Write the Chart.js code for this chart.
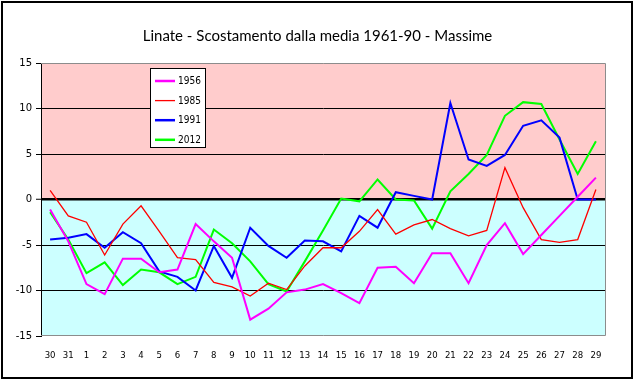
<!DOCTYPE html>
<html><head><meta charset="utf-8">
<script src="https://cdn.jsdelivr.net/npm/chart.js@4.4.1/dist/chart.umd.min.js"></script>
<style>html,body{margin:0;padding:0;background:#fff;} #wrap{position:relative;width:635px;height:381px;} canvas{display:block;}</style>
</head><body><div id="wrap"><canvas id="c" width="635" height="381"></canvas></div>
<script>
const categories = ['30','31','1','2','3','4','5','6','7','8','9','10','11','12','13','14','15','16','17','18','19','20','21','22','23','24','25','26','27','28','29'];
const seriesNames = ['1956','1985','1991','2012'];
const s1956 = [-1.1,-4.6,-9.3,-10.4,-6.5,-6.5,-8.0,-7.7,-2.7,-4.6,-6.4,-13.2,-12.0,-10.2,-9.9,-9.3,-10.3,-11.4,-7.5,-7.4,-9.2,-5.9,-5.9,-9.2,-5.0,-2.6,-6.0,-3.9,-1.8,0.3,2.4];
const s1985 = [1.0,-1.8,-2.5,-6.1,-2.7,-0.7,-3.5,-6.4,-6.6,-9.1,-9.6,-10.6,-9.2,-9.9,-7.3,-5.3,-5.3,-3.5,-1.1,-3.8,-2.8,-2.2,-3.2,-4.0,-3.4,3.5,-0.9,-4.4,-4.7,-4.4,1.1];
const s1991 = [-4.4,-4.2,-3.8,-5.3,-3.6,-4.8,-7.9,-8.5,-10.0,-5.1,-8.6,-3.1,-5.1,-6.4,-4.5,-4.6,-5.7,-1.8,-3.1,0.8,0.4,0.0,10.6,4.4,3.7,4.9,8.1,8.7,6.8,0.0,0.0];
const s2012 = [-1.4,-4.4,-8.1,-6.9,-9.4,-7.7,-8.0,-9.3,-8.5,-3.3,-4.8,-6.8,-9.3,-10.1,-6.8,-3.4,0.1,-0.2,2.2,0.0,-0.1,-3.2,0.9,2.8,4.9,9.2,10.7,10.5,6.6,2.8,6.4];
const yTickValues = [15,10,5,0,-5,-10,-15];
const titleText = 'Linate - Scostamento dalla media 1961-90 - Massime';

const colors = ['#FF00FF','#FF0000','#0000FF','#00FF00'];
const widths = [2,1.3,2,2];
const legendWidths = [2.5,1.3,2.5,2.5];
const allSeries = [s1956,s1985,s1991,s2012];

const bgPlugin = {
  id:'bg',
  beforeDraw(chart){
    const {ctx, chartArea:a, scales:{y}} = chart;
    ctx.save();
    ctx.fillStyle='#fff'; ctx.fillRect(0,0,chart.width,chart.height);
    const y0 = y.getPixelForValue(0);
    ctx.fillStyle='#FFCCCC'; ctx.fillRect(a.left,a.top,a.right-a.left,y0-a.top);
    ctx.fillStyle='#CCFFFF'; ctx.fillRect(a.left,y0,a.right-a.left,a.bottom-y0);
    ctx.restore();
  },
  beforeDatasetsDraw(chart){
    const {ctx, chartArea:a} = chart;
    ctx.save();
    ctx.strokeStyle='#8c8c8c'; ctx.lineWidth=1;
    ctx.beginPath();
    ctx.moveTo(a.left, a.top+0.5); ctx.lineTo(Math.round(a.right)+0.5, a.top+0.5);
    ctx.lineTo(Math.round(a.right)+0.5, a.bottom-0.5); ctx.lineTo(a.left, a.bottom-0.5);
    ctx.stroke();
    ctx.restore();
  },
  afterDraw(chart){
    const {ctx} = chart;
    ctx.save();
    const x0=150.5, y0=68.5, w=55, h=79;
    ctx.fillStyle='#fff'; ctx.fillRect(x0,y0,w,h);
    ctx.strokeStyle='#000'; ctx.lineWidth=1; ctx.strokeRect(x0,y0,w,h);
    chart.data.datasets.forEach((ds,i)=>{
      const yy = 81 + i*19.6;
      ctx.strokeStyle = ds.borderColor; ctx.lineWidth = legendWidths[i];
      ctx.beginPath(); ctx.moveTo(155,yy); ctx.lineTo(175,yy); ctx.stroke();
      ctx.fillStyle='#000'; ctx.font='10px "DejaVu Sans Condensed", "DejaVu Sans"';
      ctx.textBaseline='middle'; ctx.textAlign='left';
      ctx.fillText(ds.label,178,yy+0.5);
    });
    ctx.strokeStyle='#000'; ctx.lineWidth=2;
    ctx.strokeRect(2,2,630,376);
    ctx.restore();
  }
};

new Chart(document.getElementById('c'), {
  type:'line',
  data:{
    labels: categories,
    datasets: seriesNames.map((n,i)=>({
      label:n, data: allSeries[i], borderColor: colors[i], backgroundColor: colors[i],
      borderWidth: widths[i], pointRadius:0, tension:0, fill:false
    }))
  },
  options:{
    responsive:false, animation:false, devicePixelRatio:1,
    layout:{padding:{top:0,left:0,right:0,bottom:0}},
    plugins:{
      legend:{display:false}, tooltip:{enabled:false},
      title:{display:true, text:titleText, color:'#000',
        font:{family:'Lato', size:15, weight:'normal'}, padding:{top:27,bottom:18}}
    },
    scales:{
      x:{
        type:'category', offset:true,
        grid:{display:false, drawTicks:false},
        border:{display:false},
        ticks:{color:'#000', font:{family:'"DejaVu Sans Condensed", "DejaVu Sans"', size:9.5}, padding:14, maxRotation:0, autoSkip:false},
        afterFit(s){ s.height = 45; }
      },
      y:{
        min:-15, max:15,
        afterBuildTicks(s){ s.ticks = yTickValues.map(v=>({value:v})); },
        grid:{
          color:(c)=> (c.tick && Math.abs(c.tick.value)===15) ? 'rgba(0,0,0,0)' : '#000',
          lineWidth:(c)=> (c.tick && c.tick.value===0) ? 2.5 : 1,
          drawTicks:true, tickLength:5, tickColor:'#000', tickWidth:1
        },
        border:{display:true, color:'#000', width:1},
        ticks:{color:'#000', font:{family:'"DejaVu Sans"', size:10}, padding:4},
        afterFit(s){ s.width = 41; }
      },
      yRightSpace:{
        position:'right', min:-15, max:15,
        grid:{display:false, drawTicks:false}, border:{display:false},
        ticks:{display:false},
        afterFit(s){ s.width = 30; }
      }
    }
  },
  plugins:[bgPlugin]
});
</script></body></html>
